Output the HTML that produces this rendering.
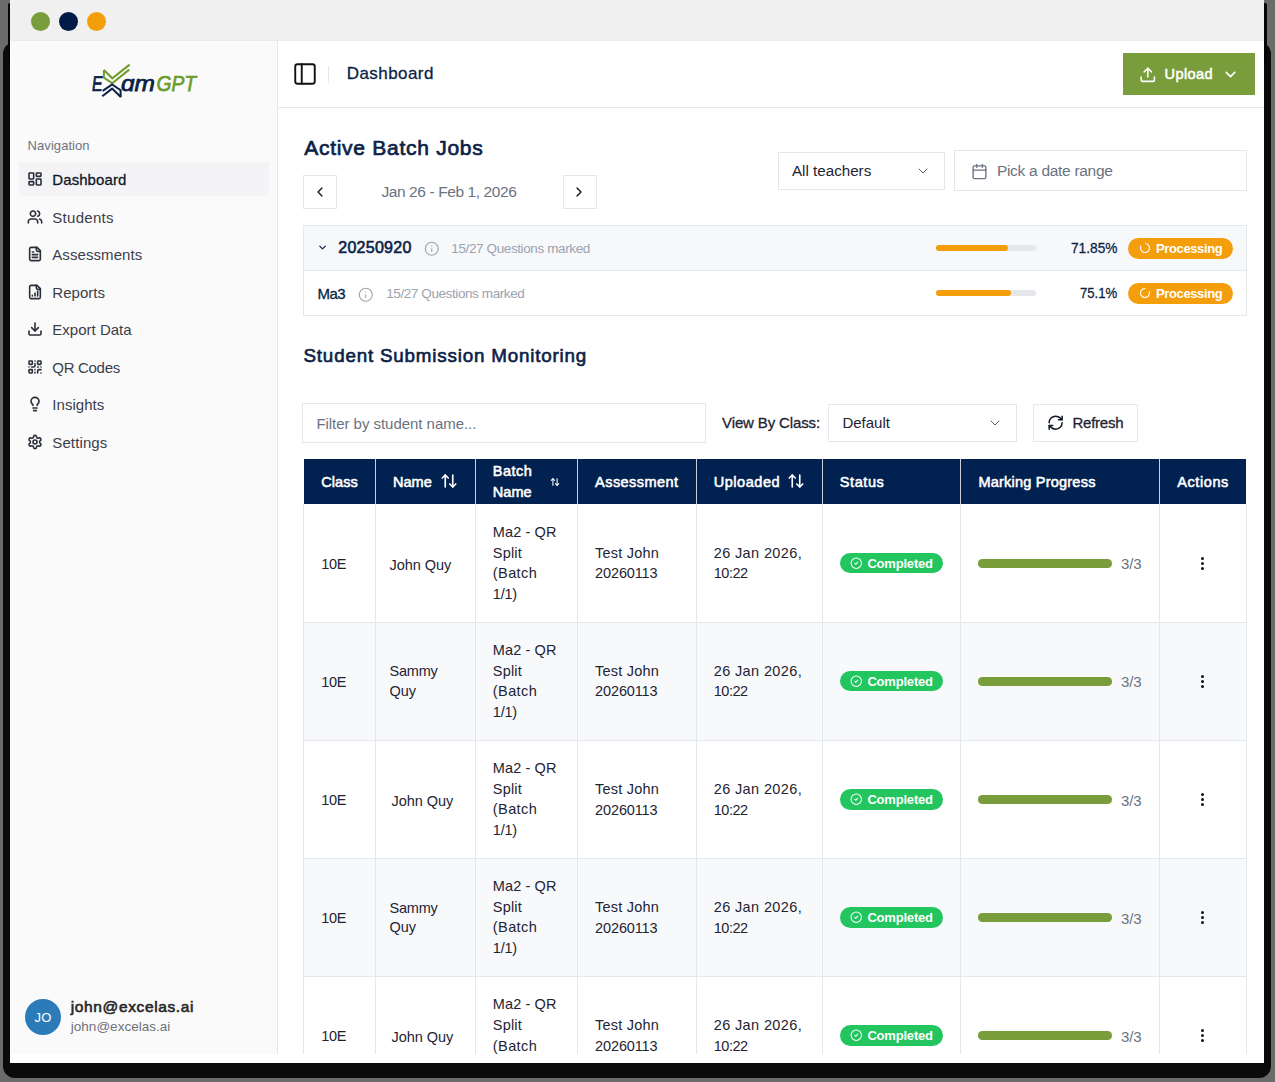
<!DOCTYPE html>
<html><head><meta charset="utf-8"><title>ExamGPT Dashboard</title>
<style>
html,body{margin:0;padding:0;}
body{width:1275px;height:1082px;position:relative;overflow:hidden;background:#6b6b6b;font-family:"Liberation Sans", sans-serif;}
.r{position:absolute;display:block;}
.t{position:absolute;white-space:nowrap;line-height:1;}
svg.r{overflow:visible}
</style></head><body>
<div class="r" style="left:3px;top:42px;width:1268px;height:1036px;background:#0b0b0b;border-radius:12px"></div>
<div class="r" style="left:8px;top:3px;width:1259px;height:60px;background:#050505;border-radius:2px"></div>
<div class="r" style="left:10px;top:0px;width:1254px;height:1063px;background:#ffffff"></div>
<div class="r" style="left:0;top:0;width:1264px;height:1054px;overflow:hidden">
<div class="r" style="left:10px;top:0px;width:1254px;height:41px;background:#f0f0f0;border-bottom:1px solid #ebebee;box-sizing:border-box"></div>
<div class="r" style="left:31px;top:12px;width:19px;height:19px;background:#789d3a;border-radius:50%"></div>
<div class="r" style="left:59px;top:12px;width:19px;height:19px;background:#011a48;border-radius:50%"></div>
<div class="r" style="left:87px;top:12px;width:19px;height:19px;background:#f59e0c;border-radius:50%"></div>
<div class="r" style="left:10px;top:41px;width:268px;height:1013px;background:#fafafa;border-right:1px solid #e4e7ec;box-sizing:border-box"></div>
<div class="r" style="left:10px;top:41px;width:1px;height:1013px;background:#ffffff"></div>
<svg class="r" style="left:80px;top:55px" width="130" height="50" viewBox="80 55 130 50">
<text x="0" y="0" transform="translate(91.3,90.8) skewX(-7)" font-family="Liberation Sans" font-size="21.3" fill="#0c1f47" stroke="#0c1f47" stroke-width="0.75" textLength="10.5" lengthAdjust="spacingAndGlyphs">E</text>
<g fill="none" stroke-width="2" stroke-linejoin="miter" stroke-linecap="butt">
<path d="M103.9,70 L112.3,78.3 L129.6,64.6" stroke="#6e9c2d"/>
<path d="M103.9,70 L103.9,77.6 L112.3,83.3 L129.2,69.6" stroke="#6e9c2d"/>
<path d="M102.7,90.9 L112.1,84.4 L120.6,90.3 L120.6,97.2" stroke="#0c1f47"/>
<path d="M102.3,96.2 L112.1,88.6 L120.8,97" stroke="#0c1f47"/>
</g>
<text x="121" y="90.8" font-family="Liberation Sans" font-style="italic" font-size="21.3" fill="#0c1f47" stroke="#0c1f47" stroke-width="0.75" textLength="34" lengthAdjust="spacingAndGlyphs">ɑm</text>
<text x="156.5" y="90.8" font-family="Liberation Sans" font-style="italic" font-size="21.3" fill="#6e9c2d" stroke="#6e9c2d" stroke-width="0.75" textLength="39.5" lengthAdjust="spacingAndGlyphs">GPT</text>
</svg>

<div class="t" style="left:27.60px;top:138.80px;font-size:13px;font-weight:normal;color:#6f7380;letter-spacing:0.064px;">Navigation</div>
<div class="r" style="left:19px;top:162px;width:250px;height:34px;background:#f4f4f6;border-radius:2px"></div>
<svg class="r" style="left:27px;top:170.9px;" width="16" height="16" viewBox="0 0 24 24" fill="none" stroke="#2a2e3a" stroke-width="2.4" stroke-linecap="round" stroke-linejoin="round"><rect width="7" height="9" x="3" y="3" rx="1"/><rect width="7" height="5" x="14" y="3" rx="1"/><rect width="7" height="9" x="14" y="12" rx="1"/><rect width="7" height="5" x="3" y="16" rx="1"/></svg>
<div class="t" style="left:52.30px;top:171.70px;font-size:15px;font-weight:normal;color:#111827;letter-spacing:0.077px;-webkit-text-stroke:0.3px #111827;">Dashboard</div>
<svg class="r" style="left:27px;top:208.8px;" width="16" height="16" viewBox="0 0 24 24" fill="none" stroke="#2a2e3a" stroke-width="2.4" stroke-linecap="round" stroke-linejoin="round"><path d="M16 21v-2a4 4 0 0 0-4-4H6a4 4 0 0 0-4 4v2"/><path d="M16 3.128a4 4 0 0 1 0 7.744"/><path d="M22 21v-2a4 4 0 0 0-3-3.87"/><circle cx="9" cy="7" r="4"/></svg>
<div class="t" style="left:52.30px;top:209.60px;font-size:15px;font-weight:normal;color:#3b3f4a;letter-spacing:0.284px;">Students</div>
<svg class="r" style="left:27px;top:246.3px;" width="16" height="16" viewBox="0 0 24 24" fill="none" stroke="#2a2e3a" stroke-width="2.4" stroke-linecap="round" stroke-linejoin="round"><path d="M15 2H6a2 2 0 0 0-2 2v16a2 2 0 0 0 2 2h12a2 2 0 0 0 2-2V7Z"/><path d="M14 2v4a2 2 0 0 0 2 2h4"/><path d="M10 9H8"/><path d="M16 13H8"/><path d="M16 17H8"/></svg>
<div class="t" style="left:52.30px;top:247.10px;font-size:15px;font-weight:normal;color:#3b3f4a;letter-spacing:0.071px;">Assessments</div>
<svg class="r" style="left:27px;top:283.7px;" width="16" height="16" viewBox="0 0 24 24" fill="none" stroke="#2a2e3a" stroke-width="2.4" stroke-linecap="round" stroke-linejoin="round"><path d="M15 2H6a2 2 0 0 0-2 2v16a2 2 0 0 0 2 2h12a2 2 0 0 0 2-2V7Z"/><path d="M14 2v4a2 2 0 0 0 2 2h4"/><path d="M8 18v-1"/><path d="M12 18v-4"/><path d="M16 18v-7"/></svg>
<div class="t" style="left:52.30px;top:284.50px;font-size:15px;font-weight:normal;color:#3b3f4a;letter-spacing:0.030px;">Reports</div>
<svg class="r" style="left:27px;top:321.2px;" width="16" height="16" viewBox="0 0 24 24" fill="none" stroke="#2a2e3a" stroke-width="2.4" stroke-linecap="round" stroke-linejoin="round"><path d="M21 15v4a2 2 0 0 1-2 2H5a2 2 0 0 1-2-2v-4"/><polyline points="7 10 12 15 17 10"/><line x1="12" x2="12" y1="15" y2="3"/></svg>
<div class="t" style="left:52.30px;top:322.00px;font-size:15px;font-weight:normal;color:#3b3f4a;letter-spacing:0.010px;">Export Data</div>
<svg class="r" style="left:27px;top:358.8px;" width="16" height="16" viewBox="0 0 24 24" fill="none" stroke="#2a2e3a" stroke-width="2.4" stroke-linecap="round" stroke-linejoin="round"><rect width="5" height="5" x="3" y="3" rx="1"/><rect width="5" height="5" x="16" y="3" rx="1"/><rect width="5" height="5" x="3" y="16" rx="1"/><path d="M21 16h-3a2 2 0 0 0-2 2v3"/><path d="M21 21v.01"/><path d="M12 7v3a2 2 0 0 1-2 2H7"/><path d="M3 12h.01"/><path d="M12 3h.01"/><path d="M12 16v.01"/><path d="M16 12h1"/><path d="M21 12v.01"/><path d="M12 21v-1"/></svg>
<div class="t" style="left:52.30px;top:359.60px;font-size:15px;font-weight:normal;color:#3b3f4a;letter-spacing:-0.304px;">QR Codes</div>
<svg class="r" style="left:27px;top:396.4px;" width="16" height="16" viewBox="0 0 24 24" fill="none" stroke="#2a2e3a" stroke-width="2.4" stroke-linecap="round" stroke-linejoin="round"><path d="M15 14c.2-1 .7-1.7 1.5-2.5 1-.9 1.5-2.2 1.5-3.5A6 6 0 0 0 6 8c0 1 .2 2.2 1.5 3.5.7.7 1.3 1.5 1.5 2.5"/><path d="M9 18h6"/><path d="M10 22h4"/></svg>
<div class="t" style="left:52.30px;top:397.20px;font-size:15px;font-weight:normal;color:#3b3f4a;letter-spacing:0.044px;">Insights</div>
<svg class="r" style="left:27px;top:433.9px;" width="16" height="16" viewBox="0 0 24 24" fill="none" stroke="#2a2e3a" stroke-width="2.4" stroke-linecap="round" stroke-linejoin="round"><path d="M12.22 2h-.44a2 2 0 0 0-2 2v.18a2 2 0 0 1-1 1.73l-.43.25a2 2 0 0 1-2 0l-.15-.08a2 2 0 0 0-2.73.73l-.22.38a2 2 0 0 0 .73 2.73l.15.1a2 2 0 0 1 1 1.72v.51a2 2 0 0 1-1 1.74l-.15.09a2 2 0 0 0-.73 2.730l.22.38a2 2 0 0 0 2.73.73l.15-.08a2 2 0 0 1 2 0l.43.25a2 2 0 0 1 1 1.73V20a2 2 0 0 0 2 2h.44a2 2 0 0 0 2-2v-.18a2 2 0 0 1 1-1.73l.43-.25a2 2 0 0 1 2 0l.15.08a2 2 0 0 0 2.73-.73l.22-.39a2 2 0 0 0-.73-2.73l-.15-.08a2 2 0 0 1-1-1.74v-.5a2 2 0 0 1 1-1.74l.15-.09a2 2 0 0 0 .73-2.73l-.22-.38a2 2 0 0 0-2.73-.73l-.15.08a2 2 0 0 1-2 0l-.43-.25a2 2 0 0 1-1-1.73V4a2 2 0 0 0-2-2z"/><circle cx="12" cy="12" r="3"/></svg>
<div class="t" style="left:52.30px;top:434.70px;font-size:15px;font-weight:normal;color:#3b3f4a;letter-spacing:0.114px;">Settings</div>
<div class="r" style="left:25px;top:999px;width:36px;height:36px;background:#2b7bb8;border-radius:50%"></div>
<div class="t" style="left:34.60px;top:1010.70px;font-size:13px;font-weight:normal;color:#ffffff;letter-spacing:0.088px;">JO</div>
<div class="t" style="left:70.80px;top:999.18px;font-size:15.5px;font-weight:normal;color:#27272a;letter-spacing:0.617px;-webkit-text-stroke:0.6px #27272a;">john@excelas.ai</div>
<div class="t" style="left:70.80px;top:1020.17px;font-size:13.5px;font-weight:normal;color:#71717a;letter-spacing:0.017px;">john@excelas.ai</div>
<div class="r" style="left:278px;top:41px;width:986px;height:66px;background:#ffffff;border-bottom:1px solid #e4e7ec;box-sizing:content-box"></div>
<svg class="r" style="left:292px;top:61px;" width="26" height="26" viewBox="0 0 24 24" fill="none" stroke="#111111" stroke-width="1.75" stroke-linecap="round" stroke-linejoin="round"><rect width="18" height="18" x="3" y="3" rx="2"/><path d="M9 3v18"/></svg>
<div class="r" style="left:328px;top:66px;width:1px;height:17px;background:#e5e7eb"></div>
<div class="t" style="left:346.70px;top:64.61px;font-size:17px;font-weight:normal;color:#0c1f47;letter-spacing:0.442px;-webkit-text-stroke:0.3px #0c1f47;">Dashboard</div>
<div class="r" style="left:1123px;top:53px;width:132px;height:42px;background:#789d3a"></div>
<svg class="r" style="left:1139.2px;top:65.8px;" width="17.6" height="17.6" viewBox="0 0 24 24" fill="none" stroke="#ffffff" stroke-width="2.1" stroke-linecap="round" stroke-linejoin="round"><path d="M21 15v4a2 2 0 0 1-2 2H5a2 2 0 0 1-2-2v-4"/><polyline points="17 8 12 3 7 8"/><line x1="12" x2="12" y1="3" y2="15"/></svg>
<div class="t" style="left:1164.60px;top:66.83px;font-size:14.5px;font-weight:normal;color:#ffffff;letter-spacing:0.410px;-webkit-text-stroke:0.55px #ffffff;">Upload</div>
<svg class="r" style="left:1221.5px;top:66px;" width="17" height="17" viewBox="0 0 24 24" fill="none" stroke="#ffffff" stroke-width="2.4" stroke-linecap="round" stroke-linejoin="round"><path d="m6 9 6 6 6-6"/></svg>
<div class="t" style="left:304.20px;top:137.42px;font-size:21px;font-weight:normal;color:#0c1f47;letter-spacing:0.730px;-webkit-text-stroke:0.7px #0c1f47;">Active Batch Jobs</div>
<div class="r" style="left:303px;top:175px;width:34px;height:34px;background:#fff;border:1px solid #e4e7ec;box-sizing:border-box"></div>
<svg class="r" style="left:312px;top:184px;" width="16" height="16" viewBox="0 0 24 24" fill="none" stroke="#111" stroke-width="2" stroke-linecap="round" stroke-linejoin="round"><path d="m15 18-6-6 6-6"/></svg>
<div class="t" style="left:381.40px;top:184.18px;font-size:15.5px;font-weight:normal;color:#6b7280;letter-spacing:-0.397px;">Jan 26 - Feb 1, 2026</div>
<div class="r" style="left:563px;top:175px;width:34px;height:34px;background:#fff;border:1px solid #e4e7ec;box-sizing:border-box"></div>
<svg class="r" style="left:571px;top:184px;" width="16" height="16" viewBox="0 0 24 24" fill="none" stroke="#111" stroke-width="2" stroke-linecap="round" stroke-linejoin="round"><path d="m9 18 6-6-6-6"/></svg>
<div class="r" style="left:778px;top:152px;width:167px;height:38px;background:#fff;border:1px solid #e4e7ec;box-sizing:border-box"></div>
<div class="t" style="left:792.00px;top:163.13px;font-size:15.2px;font-weight:normal;color:#1f2433;letter-spacing:-0.010px;">All teachers</div>
<svg class="r" style="left:915px;top:163px;" width="16" height="16" viewBox="0 0 24 24" fill="none" stroke="#555b66" stroke-width="1.5" stroke-linecap="round" stroke-linejoin="round"><path d="m6 9 6 6 6-6"/></svg>
<div class="r" style="left:954px;top:150px;width:293px;height:41px;background:#fff;border:1px solid #e4e7ec;box-sizing:border-box"></div>
<svg class="r" style="left:970.7px;top:162.7px;" width="17" height="17" viewBox="0 0 24 24" fill="none" stroke="#6b7280" stroke-width="1.9" stroke-linecap="round" stroke-linejoin="round"><path d="M8 2v4"/><path d="M16 2v4"/><rect width="18" height="18" x="3" y="4" rx="2"/><path d="M3 10h18"/></svg>
<div class="t" style="left:996.90px;top:163.18px;font-size:15.5px;font-weight:normal;color:#6b7280;letter-spacing:-0.290px;">Pick a date range</div>
<div class="r" style="left:303px;top:225px;width:944px;height:91px;background:#fff;border:1px solid #e4e7ec;box-sizing:border-box"></div>
<div class="r" style="left:304px;top:226px;width:942px;height:45px;background:#f6f8fa"></div>
<div class="r" style="left:304px;top:270px;width:942px;height:1px;background:#e4e7ec"></div>
<svg class="r" style="left:317px;top:242px;" width="11" height="11" viewBox="0 0 24 24" fill="none" stroke="#0c1f47" stroke-width="2.5" stroke-linecap="round" stroke-linejoin="round"><path d="m6 9 6 6 6-6"/></svg>
<div class="t" style="left:338.30px;top:240.46px;font-size:16px;font-weight:normal;color:#0c1f47;letter-spacing:0.259px;-webkit-text-stroke:0.6px #0c1f47;">20250920</div>
<svg class="r" style="left:423.75px;top:241.1px;" width="15.5" height="15.5" viewBox="0 0 24 24" fill="none" stroke="#9ca3af" stroke-width="1.75" stroke-linecap="round" stroke-linejoin="round"><circle cx="12" cy="12" r="10"/><path d="M12 16v-4"/><path d="M12 8h.01"/></svg>
<div class="t" style="left:451.30px;top:241.87px;font-size:13.5px;font-weight:normal;color:#9ca3af;letter-spacing:-0.385px;">15/27 Questions marked</div>
<div class="t" style="left:317.40px;top:286.30px;font-size:15px;font-weight:normal;color:#0c1f47;letter-spacing:-0.490px;-webkit-text-stroke:0.3px #0c1f47;">Ma3</div>
<svg class="r" style="left:358.15px;top:286.65px;" width="15.5" height="15.5" viewBox="0 0 24 24" fill="none" stroke="#9ca3af" stroke-width="1.75" stroke-linecap="round" stroke-linejoin="round"><circle cx="12" cy="12" r="10"/><path d="M12 16v-4"/><path d="M12 8h.01"/></svg>
<div class="t" style="left:386.20px;top:286.57px;font-size:13.5px;font-weight:normal;color:#9ca3af;letter-spacing:-0.404px;">15/27 Questions marked</div>
<div class="r" style="left:936px;top:245.3px;width:100px;height:6px;background:#e5e7eb;border-radius:3px"></div>
<div class="r" style="left:936px;top:245.3px;width:72px;height:6px;background:#f59e0b;border-radius:3px"></div>
<div class="t" style="left:1070.70px;top:240.43px;font-size:15.2px;font-weight:normal;color:#0c1f47;letter-spacing:0.000px;transform:scaleX(0.9020);transform-origin:0 0;-webkit-text-stroke:0.3px #0c1f47;">71.85%</div>
<div class="r" style="left:1128px;top:237.9px;width:105px;height:21px;background:#f59e0b;border-radius:11px"></div>
<svg class="r" style="left:1138.5px;top:242.4px;transform:rotate(-80deg)" width="12" height="12" viewBox="0 0 24 24" fill="none" stroke="#ffffff" stroke-width="2.2" stroke-linecap="round" stroke-linejoin="round"><path d="M21 12a9 9 0 1 1-6.219-8.56"/></svg>
<div class="t" style="left:1156.00px;top:242.30px;font-size:13px;font-weight:bold;color:#ffffff;letter-spacing:-0.376px;">Processing</div>
<div class="r" style="left:936px;top:290.3px;width:100px;height:6px;background:#e5e7eb;border-radius:3px"></div>
<div class="r" style="left:936px;top:290.3px;width:75px;height:6px;background:#f59e0b;border-radius:3px"></div>
<div class="t" style="left:1080.00px;top:285.43px;font-size:15.2px;font-weight:normal;color:#0c1f47;letter-spacing:0.000px;transform:scaleX(0.8631);transform-origin:0 0;-webkit-text-stroke:0.3px #0c1f47;">75.1%</div>
<div class="r" style="left:1128px;top:282.90000000000003px;width:105px;height:21px;background:#f59e0b;border-radius:11px"></div>
<svg class="r" style="left:1138.5px;top:287.40000000000003px;transform:rotate(-20deg)" width="12" height="12" viewBox="0 0 24 24" fill="none" stroke="#ffffff" stroke-width="2.2" stroke-linecap="round" stroke-linejoin="round"><path d="M21 12a9 9 0 1 1-6.219-8.56"/></svg>
<div class="t" style="left:1156.00px;top:287.30px;font-size:13px;font-weight:bold;color:#ffffff;letter-spacing:-0.376px;">Processing</div>
<div class="t" style="left:303.50px;top:346.59px;font-size:18.8px;font-weight:normal;color:#0c1f47;letter-spacing:0.814px;-webkit-text-stroke:0.65px #0c1f47;">Student Submission Monitoring</div>
<div class="r" style="left:302px;top:403px;width:404px;height:40px;background:#fff;border:1px solid #e4e7ec;box-sizing:border-box"></div>
<div class="t" style="left:316.40px;top:415.90px;font-size:15px;font-weight:normal;color:#6b7280;letter-spacing:-0.038px;">Filter by student name...</div>
<div class="t" style="left:722.10px;top:415.30px;font-size:15px;font-weight:normal;color:#1f2433;letter-spacing:-0.135px;-webkit-text-stroke:0.3px #1f2433;">View By Class:</div>
<div class="r" style="left:828px;top:404px;width:189px;height:38px;background:#fff;border:1px solid #e4e7ec;box-sizing:border-box"></div>
<div class="t" style="left:842.40px;top:415.30px;font-size:15px;font-weight:normal;color:#1f2433;letter-spacing:-0.004px;">Default</div>
<svg class="r" style="left:987px;top:415px;" width="16" height="16" viewBox="0 0 24 24" fill="none" stroke="#555b66" stroke-width="1.5" stroke-linecap="round" stroke-linejoin="round"><path d="m6 9 6 6 6-6"/></svg>
<div class="r" style="left:1033px;top:404px;width:105px;height:38px;background:#fff;border:1px solid #e4e7ec;box-sizing:border-box"></div>
<svg class="r" style="left:1046.6px;top:414.2px;" width="17.3" height="17.3" viewBox="0 0 24 24" fill="none" stroke="#111827" stroke-width="2.1" stroke-linecap="round" stroke-linejoin="round"><path d="M3 12a9 9 0 0 1 9-9 9.75 9.75 0 0 1 6.74 2.74L21 8"/><path d="M21 3v5h-5"/><path d="M21 12a9 9 0 0 1-9 9 9.75 9.75 0 0 1-6.74-2.74L3 16"/><path d="M8 16H3v5"/></svg>
<div class="t" style="left:1072.50px;top:415.30px;font-size:15px;font-weight:normal;color:#1f2433;letter-spacing:-0.254px;-webkit-text-stroke:0.3px #1f2433;">Refresh</div>
<div class="r" style="left:304px;top:459px;width:942px;height:44.5px;background:#012150"></div>
<div class="r" style="left:375px;top:459px;width:1px;height:44.5px;background:#c9ced8"></div>
<div class="r" style="left:475px;top:459px;width:1px;height:44.5px;background:#c9ced8"></div>
<div class="r" style="left:577px;top:459px;width:1px;height:44.5px;background:#c9ced8"></div>
<div class="r" style="left:696px;top:459px;width:1px;height:44.5px;background:#c9ced8"></div>
<div class="r" style="left:822px;top:459px;width:1px;height:44.5px;background:#c9ced8"></div>
<div class="r" style="left:960px;top:459px;width:1px;height:44.5px;background:#c9ced8"></div>
<div class="r" style="left:1159px;top:459px;width:1px;height:44.5px;background:#c9ced8"></div>
<div class="t" style="left:321.30px;top:474.83px;font-size:14.5px;font-weight:normal;color:#fff;letter-spacing:0.036px;-webkit-text-stroke:0.55px #fff;">Class</div>
<div class="t" style="left:393.00px;top:474.83px;font-size:14.5px;font-weight:normal;color:#fff;letter-spacing:0.041px;-webkit-text-stroke:0.55px #fff;">Name</div>
<svg class="r" style="left:440px;top:472px;" width="18" height="18" viewBox="0 0 24 24" fill="none" stroke="#fff" stroke-width="2.2" stroke-linecap="round" stroke-linejoin="round"><path d="m21 16-4 4-4-4"/><path d="M17 20V4"/><path d="m3 8 4-4 4 4"/><path d="M7 4v16"/></svg>
<div class="t" style="left:492.80px;top:464.03px;font-size:14.5px;font-weight:normal;color:#fff;letter-spacing:0.480px;-webkit-text-stroke:0.55px #fff;">Batch</div>
<div class="t" style="left:492.80px;top:484.83px;font-size:14.5px;font-weight:normal;color:#fff;letter-spacing:0.041px;-webkit-text-stroke:0.55px #fff;">Name</div>
<svg class="r" style="left:549.8px;top:477.2px;" width="10" height="10" viewBox="0 0 24 24" fill="none" stroke="#fff" stroke-width="2.6" stroke-linecap="round" stroke-linejoin="round"><path d="m21 16-4 4-4-4"/><path d="M17 20V4"/><path d="m3 8 4-4 4 4"/><path d="M7 4v16"/></svg>
<div class="t" style="left:595.10px;top:474.83px;font-size:14.5px;font-weight:normal;color:#fff;letter-spacing:0.448px;-webkit-text-stroke:0.55px #fff;">Assessment</div>
<div class="t" style="left:713.70px;top:474.83px;font-size:14.5px;font-weight:normal;color:#fff;letter-spacing:0.560px;-webkit-text-stroke:0.55px #fff;">Uploaded</div>
<svg class="r" style="left:787px;top:472px;" width="18" height="18" viewBox="0 0 24 24" fill="none" stroke="#fff" stroke-width="2.2" stroke-linecap="round" stroke-linejoin="round"><path d="m21 16-4 4-4-4"/><path d="M17 20V4"/><path d="m3 8 4-4 4 4"/><path d="M7 4v16"/></svg>
<div class="t" style="left:839.80px;top:474.83px;font-size:14.5px;font-weight:normal;color:#fff;letter-spacing:0.579px;-webkit-text-stroke:0.55px #fff;">Status</div>
<div class="t" style="left:978.40px;top:474.83px;font-size:14.5px;font-weight:normal;color:#fff;letter-spacing:0.225px;-webkit-text-stroke:0.55px #fff;">Marking Progress</div>
<div class="t" style="left:1177.30px;top:474.83px;font-size:14.5px;font-weight:normal;color:#fff;letter-spacing:0.575px;-webkit-text-stroke:0.55px #fff;">Actions</div>
<div class="r" style="left:304px;top:504.0px;width:942px;height:118.1px;background:#ffffff"></div>
<div class="r" style="left:304px;top:622.1px;width:942px;height:118.1px;background:#f8f9fb"></div>
<div class="r" style="left:304px;top:740.2px;width:942px;height:118.1px;background:#ffffff"></div>
<div class="r" style="left:304px;top:858.3px;width:942px;height:118.1px;background:#f8f9fb"></div>
<div class="r" style="left:304px;top:976.4px;width:942px;height:118.1px;background:#ffffff"></div>
<div class="r" style="left:303px;top:622px;width:944px;height:1px;background:#e4e7ec"></div>
<div class="r" style="left:303px;top:740px;width:944px;height:1px;background:#e4e7ec"></div>
<div class="r" style="left:303px;top:858px;width:944px;height:1px;background:#e4e7ec"></div>
<div class="r" style="left:303px;top:976px;width:944px;height:1px;background:#e4e7ec"></div>
<div class="r" style="left:303px;top:1094px;width:944px;height:1px;background:#e4e7ec"></div>
<div class="r" style="left:303px;top:504px;width:1px;height:600px;background:#e4e7ec"></div>
<div class="r" style="left:375px;top:504px;width:1px;height:600px;background:#e4e7ec"></div>
<div class="r" style="left:475px;top:504px;width:1px;height:600px;background:#e4e7ec"></div>
<div class="r" style="left:577px;top:504px;width:1px;height:600px;background:#e4e7ec"></div>
<div class="r" style="left:696px;top:504px;width:1px;height:600px;background:#e4e7ec"></div>
<div class="r" style="left:822px;top:504px;width:1px;height:600px;background:#e4e7ec"></div>
<div class="r" style="left:960px;top:504px;width:1px;height:600px;background:#e4e7ec"></div>
<div class="r" style="left:1159px;top:504px;width:1px;height:600px;background:#e4e7ec"></div>
<div class="r" style="left:1246px;top:504px;width:1px;height:600px;background:#e4e7ec"></div>
<div class="t" style="left:321.30px;top:556.78px;font-size:14.5px;font-weight:normal;color:#1f2433;letter-spacing:-0.400px;">10E</div>
<div class="t" style="left:389.50px;top:557.78px;font-size:14.5px;font-weight:normal;color:#1f2433;letter-spacing:-0.052px;">John Quy</div>
<div class="t" style="left:492.80px;top:524.93px;font-size:14.5px;font-weight:normal;color:#1f2433;letter-spacing:0.122px;">Ma2 - QR</div>
<div class="t" style="left:492.80px;top:545.53px;font-size:14.5px;font-weight:normal;color:#1f2433;letter-spacing:0.198px;">Split</div>
<div class="t" style="left:492.80px;top:566.13px;font-size:14.5px;font-weight:normal;color:#1f2433;letter-spacing:0.419px;">(Batch</div>
<div class="t" style="left:492.80px;top:586.73px;font-size:14.5px;font-weight:normal;color:#1f2433;letter-spacing:-0.200px;">1/1)</div>
<div class="t" style="left:595.10px;top:545.98px;font-size:14.5px;font-weight:normal;color:#1f2433;letter-spacing:0.205px;">Test John</div>
<div class="t" style="left:595.10px;top:566.38px;font-size:14.5px;font-weight:normal;color:#1f2433;letter-spacing:-0.134px;">20260113</div>
<div class="t" style="left:713.70px;top:545.98px;font-size:14.5px;font-weight:normal;color:#1f2433;letter-spacing:0.377px;">26 Jan 2026,</div>
<div class="t" style="left:713.70px;top:566.38px;font-size:14.5px;font-weight:normal;color:#1f2433;letter-spacing:-0.446px;">10:22</div>
<div class="r" style="left:839.8px;top:552.8499999999999px;width:103.5px;height:20.5px;background:#22c55e;border-radius:10.5px"></div>
<svg class="r" style="left:849.5px;top:556.8499999999999px;" width="12.5" height="12.5" viewBox="0 0 24 24" fill="none" stroke="#ffffff" stroke-width="2" stroke-linecap="round" stroke-linejoin="round"><circle cx="12" cy="12" r="10"/><path d="m9 12 2 2 4-4"/></svg>
<div class="t" style="left:867.40px;top:556.65px;font-size:13px;font-weight:bold;color:#ffffff;letter-spacing:-0.196px;">Completed</div>
<div class="r" style="left:977.5px;top:559.05px;width:134px;height:8.5px;background:#789d3a;border-radius:4.25px"></div>
<div class="t" style="left:1120.90px;top:556.35px;font-size:15px;font-weight:normal;color:#6b7280;letter-spacing:-0.076px;">3/3</div>
<div class="r" style="left:1201px;top:556.95px;width:3px;height:3px;background:#111;border-radius:50%"></div>
<div class="r" style="left:1201px;top:561.75px;width:3px;height:3px;background:#111;border-radius:50%"></div>
<div class="r" style="left:1201px;top:566.55px;width:3px;height:3px;background:#111;border-radius:50%"></div>
<div class="t" style="left:321.30px;top:674.88px;font-size:14.5px;font-weight:normal;color:#1f2433;letter-spacing:-0.400px;">10E</div>
<div class="t" style="left:389.50px;top:664.33px;font-size:14.5px;font-weight:normal;color:#1f2433;letter-spacing:-0.211px;">Sammy</div>
<div class="t" style="left:389.50px;top:684.13px;font-size:14.5px;font-weight:normal;color:#1f2433;letter-spacing:-0.046px;">Quy</div>
<div class="t" style="left:492.80px;top:643.03px;font-size:14.5px;font-weight:normal;color:#1f2433;letter-spacing:0.122px;">Ma2 - QR</div>
<div class="t" style="left:492.80px;top:663.63px;font-size:14.5px;font-weight:normal;color:#1f2433;letter-spacing:0.198px;">Split</div>
<div class="t" style="left:492.80px;top:684.23px;font-size:14.5px;font-weight:normal;color:#1f2433;letter-spacing:0.419px;">(Batch</div>
<div class="t" style="left:492.80px;top:704.83px;font-size:14.5px;font-weight:normal;color:#1f2433;letter-spacing:-0.200px;">1/1)</div>
<div class="t" style="left:595.10px;top:664.08px;font-size:14.5px;font-weight:normal;color:#1f2433;letter-spacing:0.205px;">Test John</div>
<div class="t" style="left:595.10px;top:684.48px;font-size:14.5px;font-weight:normal;color:#1f2433;letter-spacing:-0.134px;">20260113</div>
<div class="t" style="left:713.70px;top:664.08px;font-size:14.5px;font-weight:normal;color:#1f2433;letter-spacing:0.377px;">26 Jan 2026,</div>
<div class="t" style="left:713.70px;top:684.48px;font-size:14.5px;font-weight:normal;color:#1f2433;letter-spacing:-0.446px;">10:22</div>
<div class="r" style="left:839.8px;top:670.9499999999999px;width:103.5px;height:20.5px;background:#22c55e;border-radius:10.5px"></div>
<svg class="r" style="left:849.5px;top:674.9499999999999px;" width="12.5" height="12.5" viewBox="0 0 24 24" fill="none" stroke="#ffffff" stroke-width="2" stroke-linecap="round" stroke-linejoin="round"><circle cx="12" cy="12" r="10"/><path d="m9 12 2 2 4-4"/></svg>
<div class="t" style="left:867.40px;top:674.75px;font-size:13px;font-weight:bold;color:#ffffff;letter-spacing:-0.196px;">Completed</div>
<div class="r" style="left:977.5px;top:677.15px;width:134px;height:8.5px;background:#789d3a;border-radius:4.25px"></div>
<div class="t" style="left:1120.90px;top:674.45px;font-size:15px;font-weight:normal;color:#6b7280;letter-spacing:-0.076px;">3/3</div>
<div class="r" style="left:1201px;top:675.0500000000001px;width:3px;height:3px;background:#111;border-radius:50%"></div>
<div class="r" style="left:1201px;top:679.85px;width:3px;height:3px;background:#111;border-radius:50%"></div>
<div class="r" style="left:1201px;top:684.65px;width:3px;height:3px;background:#111;border-radius:50%"></div>
<div class="t" style="left:321.30px;top:792.98px;font-size:14.5px;font-weight:normal;color:#1f2433;letter-spacing:-0.400px;">10E</div>
<div class="t" style="left:391.50px;top:793.98px;font-size:14.5px;font-weight:normal;color:#1f2433;letter-spacing:-0.052px;">John Quy</div>
<div class="t" style="left:492.80px;top:761.13px;font-size:14.5px;font-weight:normal;color:#1f2433;letter-spacing:0.122px;">Ma2 - QR</div>
<div class="t" style="left:492.80px;top:781.73px;font-size:14.5px;font-weight:normal;color:#1f2433;letter-spacing:0.198px;">Split</div>
<div class="t" style="left:492.80px;top:802.33px;font-size:14.5px;font-weight:normal;color:#1f2433;letter-spacing:0.419px;">(Batch</div>
<div class="t" style="left:492.80px;top:822.93px;font-size:14.5px;font-weight:normal;color:#1f2433;letter-spacing:-0.200px;">1/1)</div>
<div class="t" style="left:595.10px;top:782.18px;font-size:14.5px;font-weight:normal;color:#1f2433;letter-spacing:0.205px;">Test John</div>
<div class="t" style="left:595.10px;top:802.58px;font-size:14.5px;font-weight:normal;color:#1f2433;letter-spacing:-0.134px;">20260113</div>
<div class="t" style="left:713.70px;top:782.18px;font-size:14.5px;font-weight:normal;color:#1f2433;letter-spacing:0.377px;">26 Jan 2026,</div>
<div class="t" style="left:713.70px;top:802.58px;font-size:14.5px;font-weight:normal;color:#1f2433;letter-spacing:-0.446px;">10:22</div>
<div class="r" style="left:839.8px;top:789.05px;width:103.5px;height:20.5px;background:#22c55e;border-radius:10.5px"></div>
<svg class="r" style="left:849.5px;top:793.05px;" width="12.5" height="12.5" viewBox="0 0 24 24" fill="none" stroke="#ffffff" stroke-width="2" stroke-linecap="round" stroke-linejoin="round"><circle cx="12" cy="12" r="10"/><path d="m9 12 2 2 4-4"/></svg>
<div class="t" style="left:867.40px;top:792.85px;font-size:13px;font-weight:bold;color:#ffffff;letter-spacing:-0.196px;">Completed</div>
<div class="r" style="left:977.5px;top:795.25px;width:134px;height:8.5px;background:#789d3a;border-radius:4.25px"></div>
<div class="t" style="left:1120.90px;top:792.55px;font-size:15px;font-weight:normal;color:#6b7280;letter-spacing:-0.076px;">3/3</div>
<div class="r" style="left:1201px;top:793.1500000000001px;width:3px;height:3px;background:#111;border-radius:50%"></div>
<div class="r" style="left:1201px;top:797.95px;width:3px;height:3px;background:#111;border-radius:50%"></div>
<div class="r" style="left:1201px;top:802.75px;width:3px;height:3px;background:#111;border-radius:50%"></div>
<div class="t" style="left:321.30px;top:911.08px;font-size:14.5px;font-weight:normal;color:#1f2433;letter-spacing:-0.400px;">10E</div>
<div class="t" style="left:389.50px;top:900.53px;font-size:14.5px;font-weight:normal;color:#1f2433;letter-spacing:-0.211px;">Sammy</div>
<div class="t" style="left:389.50px;top:920.33px;font-size:14.5px;font-weight:normal;color:#1f2433;letter-spacing:-0.046px;">Quy</div>
<div class="t" style="left:492.80px;top:879.23px;font-size:14.5px;font-weight:normal;color:#1f2433;letter-spacing:0.122px;">Ma2 - QR</div>
<div class="t" style="left:492.80px;top:899.83px;font-size:14.5px;font-weight:normal;color:#1f2433;letter-spacing:0.198px;">Split</div>
<div class="t" style="left:492.80px;top:920.43px;font-size:14.5px;font-weight:normal;color:#1f2433;letter-spacing:0.419px;">(Batch</div>
<div class="t" style="left:492.80px;top:941.03px;font-size:14.5px;font-weight:normal;color:#1f2433;letter-spacing:-0.200px;">1/1)</div>
<div class="t" style="left:595.10px;top:900.28px;font-size:14.5px;font-weight:normal;color:#1f2433;letter-spacing:0.205px;">Test John</div>
<div class="t" style="left:595.10px;top:920.68px;font-size:14.5px;font-weight:normal;color:#1f2433;letter-spacing:-0.134px;">20260113</div>
<div class="t" style="left:713.70px;top:900.28px;font-size:14.5px;font-weight:normal;color:#1f2433;letter-spacing:0.377px;">26 Jan 2026,</div>
<div class="t" style="left:713.70px;top:920.68px;font-size:14.5px;font-weight:normal;color:#1f2433;letter-spacing:-0.446px;">10:22</div>
<div class="r" style="left:839.8px;top:907.1499999999999px;width:103.5px;height:20.5px;background:#22c55e;border-radius:10.5px"></div>
<svg class="r" style="left:849.5px;top:911.1499999999999px;" width="12.5" height="12.5" viewBox="0 0 24 24" fill="none" stroke="#ffffff" stroke-width="2" stroke-linecap="round" stroke-linejoin="round"><circle cx="12" cy="12" r="10"/><path d="m9 12 2 2 4-4"/></svg>
<div class="t" style="left:867.40px;top:910.95px;font-size:13px;font-weight:bold;color:#ffffff;letter-spacing:-0.196px;">Completed</div>
<div class="r" style="left:977.5px;top:913.3499999999999px;width:134px;height:8.5px;background:#789d3a;border-radius:4.25px"></div>
<div class="t" style="left:1120.90px;top:910.65px;font-size:15px;font-weight:normal;color:#6b7280;letter-spacing:-0.076px;">3/3</div>
<div class="r" style="left:1201px;top:911.25px;width:3px;height:3px;background:#111;border-radius:50%"></div>
<div class="r" style="left:1201px;top:916.05px;width:3px;height:3px;background:#111;border-radius:50%"></div>
<div class="r" style="left:1201px;top:920.8499999999999px;width:3px;height:3px;background:#111;border-radius:50%"></div>
<div class="t" style="left:321.30px;top:1029.18px;font-size:14.5px;font-weight:normal;color:#1f2433;letter-spacing:-0.400px;">10E</div>
<div class="t" style="left:391.50px;top:1030.18px;font-size:14.5px;font-weight:normal;color:#1f2433;letter-spacing:-0.052px;">John Quy</div>
<div class="t" style="left:492.80px;top:997.33px;font-size:14.5px;font-weight:normal;color:#1f2433;letter-spacing:0.122px;">Ma2 - QR</div>
<div class="t" style="left:492.80px;top:1017.93px;font-size:14.5px;font-weight:normal;color:#1f2433;letter-spacing:0.198px;">Split</div>
<div class="t" style="left:492.80px;top:1038.53px;font-size:14.5px;font-weight:normal;color:#1f2433;letter-spacing:0.419px;">(Batch</div>
<div class="t" style="left:492.80px;top:1059.13px;font-size:14.5px;font-weight:normal;color:#1f2433;letter-spacing:-0.200px;">1/1)</div>
<div class="t" style="left:595.10px;top:1018.38px;font-size:14.5px;font-weight:normal;color:#1f2433;letter-spacing:0.205px;">Test John</div>
<div class="t" style="left:595.10px;top:1038.78px;font-size:14.5px;font-weight:normal;color:#1f2433;letter-spacing:-0.134px;">20260113</div>
<div class="t" style="left:713.70px;top:1018.38px;font-size:14.5px;font-weight:normal;color:#1f2433;letter-spacing:0.377px;">26 Jan 2026,</div>
<div class="t" style="left:713.70px;top:1038.78px;font-size:14.5px;font-weight:normal;color:#1f2433;letter-spacing:-0.446px;">10:22</div>
<div class="r" style="left:839.8px;top:1025.25px;width:103.5px;height:20.5px;background:#22c55e;border-radius:10.5px"></div>
<svg class="r" style="left:849.5px;top:1029.25px;" width="12.5" height="12.5" viewBox="0 0 24 24" fill="none" stroke="#ffffff" stroke-width="2" stroke-linecap="round" stroke-linejoin="round"><circle cx="12" cy="12" r="10"/><path d="m9 12 2 2 4-4"/></svg>
<div class="t" style="left:867.40px;top:1029.05px;font-size:13px;font-weight:bold;color:#ffffff;letter-spacing:-0.196px;">Completed</div>
<div class="r" style="left:977.5px;top:1031.45px;width:134px;height:8.5px;background:#789d3a;border-radius:4.25px"></div>
<div class="t" style="left:1120.90px;top:1028.75px;font-size:15px;font-weight:normal;color:#6b7280;letter-spacing:-0.076px;">3/3</div>
<div class="r" style="left:1201px;top:1029.3500000000001px;width:3px;height:3px;background:#111;border-radius:50%"></div>
<div class="r" style="left:1201px;top:1034.15px;width:3px;height:3px;background:#111;border-radius:50%"></div>
<div class="r" style="left:1201px;top:1038.95px;width:3px;height:3px;background:#111;border-radius:50%"></div>
</div>

</body></html>
